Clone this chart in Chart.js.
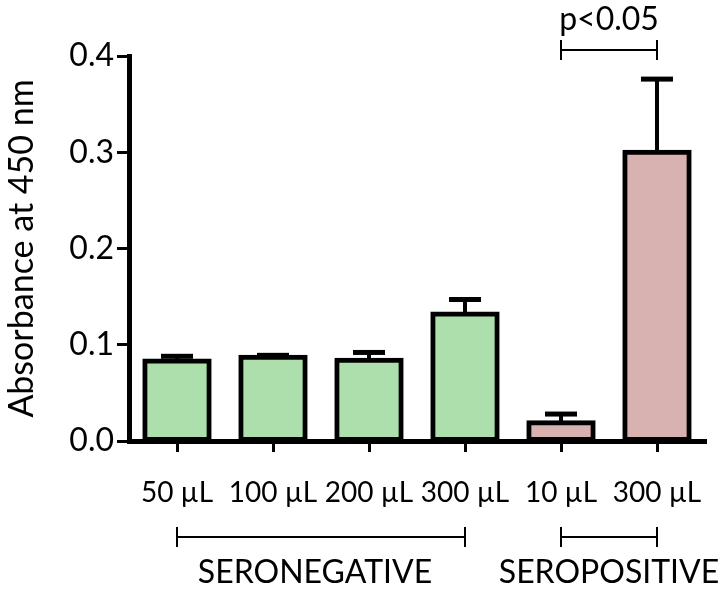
<!DOCTYPE html>
<html>
<head>
<meta charset="utf-8">
<script src="https://cdn.jsdelivr.net/npm/chart.js@4.4.1/dist/chart.umd.min.js"></script>
<style>
  html, body { margin: 0; padding: 0; background: #fff; }
  #wrap { width: 721px; height: 589px; position: relative; }
</style>
</head>
<body>
<div id="wrap"><canvas id="grafica"></canvas></div>
<script>
"use strict";

// values
const categories = ["50 µL", "100 µL", "200 µL", "300 µL", "10 µL", "300 µL"];
const means = [0.083, 0.087, 0.084, 0.132, 0.019, 0.300];
const errors = [0.005, 0.002, 0.008, 0.015, 0.009, 0.076];
const barColors = ["#addfad", "#addfad", "#addfad", "#addfad", "#d8b1b1", "#d8b1b1"];
const yTicks = [0.0, 0.1, 0.2, 0.3, 0.4];
const groupNames = ["SERONEGATIVE", "SEROPOSITIVE"];
const groupFrom = [0, 4];
const groupTo = [3, 5];
const sigFrom = 4;
const sigTo = 5;
const sigText = "p<0.05";

const FONT = "Lato, 'Open Sans', sans-serif";

function bracket(ctx, x1, x2, y, h) {
    ctx.beginPath();
    ctx.moveTo(x1, y);
    ctx.lineTo(x2, y);
    ctx.moveTo(x1, y - h);
    ctx.lineTo(x1, y + h);
    ctx.moveTo(x2, y - h);
    ctx.lineTo(x2, y + h);
    ctx.stroke();
}

const extras = {
    id: "extras",
    afterDatasetsDraw(chart) {
        const { ctx, scales: { x, y } } = chart;
        ctx.save();
        ctx.strokeStyle = "#000";
        // error bars (upper only)
        means.forEach((m, i) => {
            const cx = x.getPixelForValue(i);
            const top = y.getPixelForValue(m);
            const cap = y.getPixelForValue(m + errors[i]);
            ctx.lineWidth = 4;
            ctx.beginPath();
            ctx.moveTo(cx, top);
            ctx.lineTo(cx, cap);
            ctx.stroke();
            ctx.lineWidth = 5;
            ctx.beginPath();
            ctx.moveTo(cx - 16, cap);
            ctx.lineTo(cx + 16, cap);
            ctx.stroke();
        });
        ctx.restore();
    },
    afterDraw(chart) {
        const { ctx, chartArea, scales: { x } } = chart;
        ctx.save();
        ctx.strokeStyle = "#000";
        ctx.fillStyle = "#000";
        ctx.lineWidth = 2;

        // significance bracket
        const sx1 = x.getPixelForValue(sigFrom);
        const sx2 = x.getPixelForValue(sigTo);
        const sy = chartArea.top - 6;
        bracket(ctx, sx1, sx2, sy, 10);
        ctx.font = "32px " + FONT;
        ctx.textAlign = "center";
        ctx.textBaseline = "middle";
        ctx.fillText(sigText, (sx1 + sx2) / 2, sy - 30);

        // group brackets under the axis
        const gy = chartArea.bottom + 96;
        ctx.font = "32px " + FONT;
        groupNames.forEach((name, g) => {
            const gx1 = x.getPixelForValue(groupFrom[g]);
            const gx2 = x.getPixelForValue(groupTo[g]);
            bracket(ctx, gx1, gx2, gy, 10);
            ctx.fillText(name, (gx1 + gx2) / 2 - (g === 0 ? 6 : 0), gy + 36);
        });
        ctx.restore();
    }
};

new Chart(document.querySelector("#grafica"), {
    type: "bar",
    data: {
        labels: categories,
        datasets: [{
            data: means,
            backgroundColor: barColors,
            borderColor: "#000",
            borderWidth: 5,
            borderSkipped: false,
            inflateAmount: 2.5,
            barPercentage: 0.67,
            categoryPercentage: 1
        }]
    },
    options: {
        responsive: true,
        maintainAspectRatio: false,
        animation: false,
        layout: { padding: { top: 56, right: 16, left: 0, bottom: 0 } },
        plugins: {
            legend: { display: false },
            tooltip: { enabled: false }
        },
        scales: {
            x: {
                afterFit: (s) => {
                    s.height = 148;
                    s.paddingLeft = 0;
                    s.paddingRight = 0;
                },
                grid: {
                    offset: false,
                    drawOnChartArea: false,
                    color: "#000",
                    lineWidth: 3,
                    tickLength: 11
                },
                border: { color: "#000", width: 5 },
                ticks: {
                    color: "#000",
                    padding: 24,
                    maxRotation: 0,
                    autoSkip: false,
                    font: { family: FONT, size: 28 }
                }
            },
            y: {
                min: 0,
                max: 0.4,
                afterFit: (s) => { s.width = 129; },
                afterBuildTicks: (s) => { s.ticks = yTicks.map(v => ({ value: v })); },
                grid: {
                    drawOnChartArea: false,
                    color: "#000",
                    lineWidth: 3,
                    tickLength: 12
                },
                border: { color: "#000", width: 5 },
                ticks: {
                    color: "#000",
                    padding: 3,
                    font: { family: FONT, size: 32 },
                    callback: (v) => Number(v).toFixed(1)
                },
                title: {
                    display: true,
                    text: "Absorbance at 450 nm",
                    color: "#000",
                    padding: { top: 2, bottom: 4 },
                    font: { family: FONT, size: 34 }
                }
            }
        }
    },
    plugins: [extras]
});
</script>
</body>
</html>
